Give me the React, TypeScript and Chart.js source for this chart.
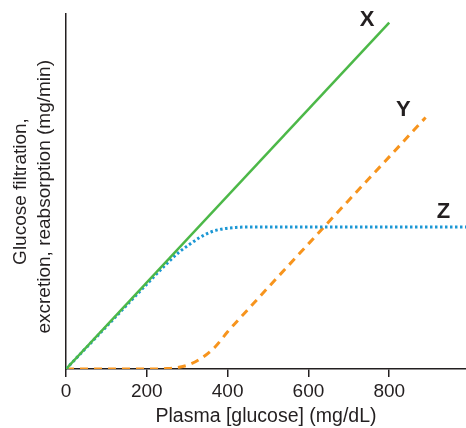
import React, { useEffect, useRef } from "react";
import { Chart, registerables } from "chart.js";

Chart.register(...registerables);

// Curve X: filtration
const xLineX = [0, 800];
const xLineY = [0, 800];

// Curve Y: excretion
const yLineX = [0, 100, 200, 250, 280, 310, 340, 370, 400, 450, 500, 600, 700, 800, 890];
const yLineY = [0, 0, 0, 1, 4, 12, 28, 52, 86, 137, 188, 289, 390, 490, 581];

// Curve Z: reabsorption
const zLineX = [0, 100, 200, 250, 280, 300, 330, 360, 390, 420, 450, 500, 600, 700, 800, 900, 990];
const zLineY = [0, 98, 196, 244, 270, 284, 303, 317, 324, 327, 328, 328, 328, 328, 328, 328, 328];

// Curve labels (data coordinates)
const curveNames = ["X", "Y", "Z"];
const curveLabelX = [745, 835, 934];
const curveLabelY = [806, 598, 363];

const xTicks = [0, 200, 400, 600, 800];

const FONT = "'Liberation Sans', Arial, Helvetica, sans-serif";
const INK = "#231f20";

const toPoints = (xs: number[], ys: number[]) => xs.map((x, i) => ({ x, y: ys[i] }));

const labelPlugin = {
  id: "curveLabels",
  afterDatasetsDraw(chart: any) {
    const { ctx, scales } = chart;
    ctx.save();
    ctx.font = `bold 22px ${FONT}`;
    ctx.fillStyle = INK;
    ctx.textAlign = "center";
    ctx.textBaseline = "middle";
    curveNames.forEach((n, i) => {
      ctx.fillText(n, scales.x.getPixelForValue(curveLabelX[i]), scales.y.getPixelForValue(curveLabelY[i]));
    });
    ctx.restore();
  },
};

export default function App() {
  const ref = useRef<HTMLCanvasElement | null>(null);
  useEffect(() => {
    if (!ref.current) return;
    const chart = new Chart(ref.current, {
      type: "line",
      data: {
        datasets: [
          {
            label: "X",
            data: toPoints(xLineX, xLineY),
            borderColor: "#4cb848",
            borderWidth: 2.5,
            pointRadius: 0,
            fill: false,
          },
          {
            label: "Z",
            data: toPoints(zLineX, zLineY),
            borderColor: "#1c97d4",
            borderWidth: 3,
            borderDash: [2.5, 2.5],
            pointRadius: 0,
            cubicInterpolationMode: "monotone",
            fill: false,
          },
          {
            label: "Y",
            data: toPoints(yLineX, yLineY),
            borderColor: "#f7941d",
            borderWidth: 3,
            borderDash: [8, 6],
            pointRadius: 0,
            cubicInterpolationMode: "monotone",
            fill: false,
          },
        ],
      },
      options: {
        animation: false,
        responsive: true,
        maintainAspectRatio: false,
        layout: { padding: { top: 14, right: 0, left: 0, bottom: 0 } },
        plugins: { legend: { display: false }, tooltip: { enabled: false } },
        scales: {
          x: {
            type: "linear",
            min: 0,
            max: 990,
            afterFit: (s: any) => {
              s.height = 59;
            },
            afterBuildTicks: (s: any) => {
              s.ticks = xTicks.map((v) => ({ value: v }));
            },
            ticks: {
              includeBounds: false,
              font: { family: FONT, size: 19 },
              color: INK,
              padding: 3,
              maxRotation: 0,
            },
            grid: {
              drawOnChartArea: false,
              drawTicks: true,
              tickLength: 8,
              color: INK,
              lineWidth: 1.5,
            },
            border: { display: true, color: INK, width: 1.5 },
            title: {
              display: true,
              text: "Plasma [glucose] (mg/dL)",
              font: { family: FONT, size: 19.5 },
              color: INK,
              padding: { top: 0, bottom: 0 },
            },
          },
          y: {
            type: "linear",
            min: 0,
            max: 820,
            afterFit: (s: any) => {
              s.width = 66;
            },
            ticks: { display: false },
            grid: { drawOnChartArea: false, drawTicks: false },
            border: { display: true, color: INK, width: 1.5 },
            title: {
              display: true,
              text: ["Glucose filtration,", "excretion, reabsorption (mg/min)  "],
              font: { family: FONT, size: 19, lineHeight: 1.25 },
              color: INK,
              padding: { top: 9, bottom: 0 },
            },
          },
        },
      },
      plugins: [labelPlugin],
    });
    return () => chart.destroy();
  }, []);
  return (
    <div style={{ position: "absolute", left: 0, top: 0, width: 466, height: 428, background: "#fff" }}>
      <canvas ref={ref} />
    </div>
  );
}
